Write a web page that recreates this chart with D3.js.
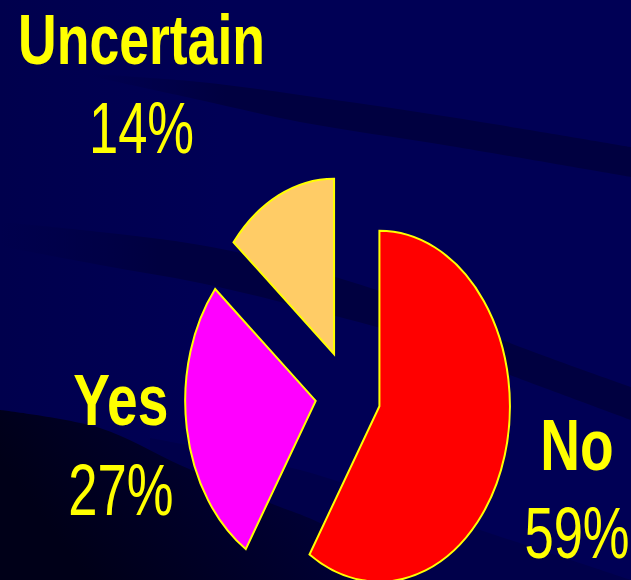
<!DOCTYPE html>
<html>
<head>
<meta charset="utf-8">
<script src="https://cdn.jsdelivr.net/npm/d3@7/dist/d3.min.js"></script>
<style>
  html, body { margin: 0; padding: 0; background: #000055; }
  svg { display: block; }
</style>
</head>
<body>
<script>
// ---- data ----
const categories = ["No", "Yes", "Uncertain"];
const values = [59, 27, 14];
const sliceColors = ["#FF0000", "#FF00FF", "#FFCC66"];

// ---- layout ----
const W = 631, H = 580;
const cx = 348, cy = 394;           // true pie centre
const ry = 175.5, rx = 130.5;       // elliptical pie radii
const explode = 44;                 // explosion distance (circle space)
const labelPos = {
  "Uncertain": { x: 141.5, name: 64,  pct: 153, size: 70 },
  "Yes":       { x: 120.8, name: 425, pct: 515, size: 72 },
  "No":        { x: 577,   name: 470, pct: 558, size: 72 }
};
const squeezeBold = 0.765, squeezeReg = 0.73;

const svg = d3.select("body").append("svg")
  .attr("width", W).attr("height", H);

const defs = svg.append("defs");
const g1 = defs.append("linearGradient").attr("id", "fadeL").attr("x1", 0).attr("x2", 1).attr("y1", 0).attr("y2", 0);
g1.append("stop").attr("offset", 0).attr("stop-color", "#000040").attr("stop-opacity", 0);
g1.append("stop").attr("offset", 0.25).attr("stop-color", "#000040").attr("stop-opacity", 1);
g1.append("stop").attr("offset", 1).attr("stop-color", "#000040").attr("stop-opacity", 1);

const g2 = defs.append("linearGradient").attr("id", "darkBL").attr("x1", 0).attr("x2", 1).attr("y1", 0.3).attr("y2", 0);
g2.append("stop").attr("offset", 0).attr("stop-color", "#000018");
g2.append("stop").attr("offset", 0.5).attr("stop-color", "#000030");
g2.append("stop").attr("offset", 1).attr("stop-color", "#000048");

const bgG = defs.append("linearGradient").attr("id", "bg").attr("x1", 0).attr("x2", 1).attr("y1", 0).attr("y2", 0);
bgG.append("stop").attr("offset", 0).attr("stop-color", "#00004d");
bgG.append("stop").attr("offset", 0.35).attr("stop-color", "#000055");
bgG.append("stop").attr("offset", 1).attr("stop-color", "#000055");

// ---- background ----
svg.append("rect").attr("width", W).attr("height", H).attr("fill", "url(#bg)");

const line = d3.line().curve(d3.curveCatmullRom);
function band(top, bottom) {
  const p1 = line(top);
  const p2 = line(bottom.slice().reverse());
  return p1 + "L" + p2.slice(1) + "Z";
}
// upper swoosh
svg.append("path")
  .attr("d", band([[90,74],[200,82],[300,95],[450,117],[631,147]],
                  [[90,76],[200,100],[300,122],[450,146],[631,177]]))
  .attr("fill", "url(#fadeL)");
// middle swoosh
svg.append("path")
  .attr("d", band([[0,222],[100,232],[200,245],[300,267],[420,305],[510,343],[631,387]],
                  [[0,246],[100,265],[200,283],[300,307],[420,340],[510,375],[631,420]]))
  .attr("fill", "url(#fadeL)");
// mid-tone lower band
svg.append("path")
  .attr("d", band([[150,438],[300,470],[450,520],[631,580]],
                  [[150,470],[300,530],[400,580],[631,580]]))
  .attr("fill", "#00004a");
// dark lower-left region
svg.append("path")
  .attr("d", line([[0,410],[100,428],[180,465],[270,503],[320,523],[420,580]]) + "L0,580Z")
  .attr("fill", "url(#darkBL)");

// ---- pie ----
const pie = d3.pie().sort(null).value(d => d)(values);
const arc = d3.arc().innerRadius(0).outerRadius(ry);
const pg = svg.append("g")
  .attr("transform", `translate(${cx},${cy}) scale(${rx / ry},1)`);

pg.selectAll("path").data(pie).join("path")
  .attr("transform", d => {
    const m = (d.startAngle + d.endAngle) / 2;
    return `translate(${explode * Math.sin(m)},${-explode * Math.cos(m)})`;
  })
  .attr("d", arc)
  .attr("fill", (d, i) => sliceColors[i])
  .attr("stroke", "#FFFF00")
  .attr("stroke-width", 2)
  .attr("stroke-linejoin", "miter")
  .attr("vector-effect", "non-scaling-stroke");

// ---- labels ----
categories.forEach((c, i) => {
  const p = labelPos[c];
  svg.append("text")
    .attr("transform", `translate(${p.x},${p.name}) scale(${squeezeBold},1)`)
    .attr("text-anchor", "middle")
    .attr("font-family", "'Liberation Sans', Arial, sans-serif")
    .attr("font-weight", "bold")
    .attr("font-size", p.size)
    .attr("fill", "#FFFF00")
    .text(c);
  svg.append("text")
    .attr("transform", `translate(${p.x},${p.pct}) scale(${squeezeReg},1)`)
    .attr("text-anchor", "middle")
    .attr("font-family", "'Liberation Sans', Arial, sans-serif")
    .attr("font-size", 72)
    .attr("fill", "#FFFF00")
    .text(values[i] + "%");
});
</script>
</body>
</html>
